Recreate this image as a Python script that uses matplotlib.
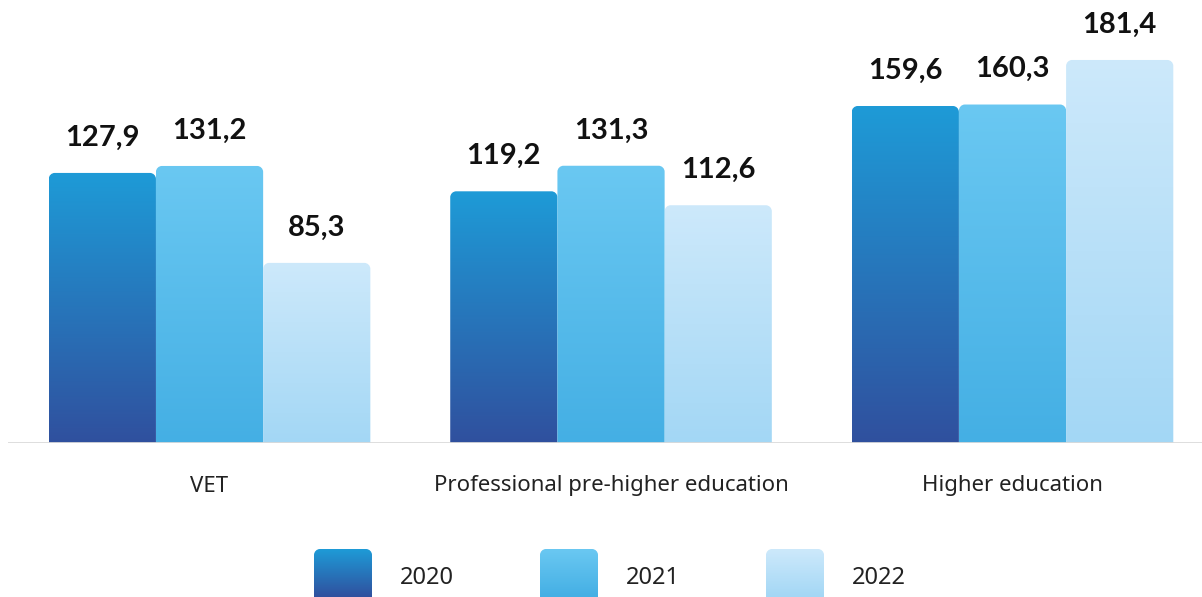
import numpy as np
import matplotlib as mpl
mpl.use("Agg")
import matplotlib.pyplot as plt
from matplotlib.path import Path
from matplotlib.patches import PathPatch
from matplotlib.colors import to_rgb

mpl.rcParams['font.family'] = ['Noto Sans', 'DejaVu Sans']

categories = ["VET", "Professional pre-higher education", "Higher education"]
years = ["2020", "2021", "2022"]
v2020 = [127.9, 119.2, 159.6]
v2021 = [131.2, 131.3, 160.3]
v2022 = [85.3, 112.6, 181.4]
values = [v2020, v2021, v2022]

# gradient top / bottom per series
grad = [("#1E9BD7", "#30509E"), ("#6AC8F2", "#44AFE4"), ("#CDE9FB", "#A3D7F5")]

W, H = 1202, 597
fig = plt.figure(figsize=(W / 100, H / 100), dpi=100)
ax = fig.add_axes([8 / W, 154 / H, 1 - 8 / W, 443 / H])
ax.set_xlim(-0.502, 2.472)
ax.set_ylim(0, 209.8)
ax.axis("off")

bw = 0.267
px_x = (W - 8) / (2.472 + 0.502)
px_y = 443 / 209.8


def top_round_path(x0, w, h, rx, ry):
    k = 0.5523
    verts = [(x0, 0), (x0, h - ry),
             (x0, h - ry + k * ry), (x0 + rx - k * rx, h), (x0 + rx, h),
             (x0 + w - rx, h),
             (x0 + w - rx + k * rx, h), (x0 + w, h - ry + k * ry), (x0 + w, h - ry),
             (x0 + w, 0), (x0, 0)]
    codes = [Path.MOVETO, Path.LINETO,
             Path.CURVE4, Path.CURVE4, Path.CURVE4,
             Path.LINETO,
             Path.CURVE4, Path.CURVE4, Path.CURVE4,
             Path.LINETO, Path.CLOSEPOLY]
    return Path(verts, codes)


def gradient_img(top, bot, n=256):
    t = np.linspace(0, 1, n)[:, None]
    c0 = np.array(to_rgb(top))
    c1 = np.array(to_rgb(bot))
    arr = c0[None, :] * (1 - t[:, :, None]) + c1[None, :] * t[:, :, None]
    return arr


rx = 6 / px_x
ry = 6 / px_y
x = np.arange(len(categories))
for i, series in enumerate(values):
    for j, v in enumerate(series):
        x0 = x[j] + (i - 1) * bw - bw / 2
        patch = PathPatch(top_round_path(x0, bw, v, rx, ry), fc="none", ec="none")
        ax.add_patch(patch)
        im = ax.imshow(gradient_img(*grad[i]), extent=[x0, x0 + bw, 0, v],
                       aspect="auto", interpolation="bicubic", zorder=2)
        im.set_clip_path(patch)
        ax.annotate(f"{v:.1f}".replace(".", ","), (x0 + bw / 2, v),
                    xytext=(0, 16), textcoords="offset points",
                    ha="center", va="bottom", fontsize=21, fontweight="bold",
                    family=["Lato", "DejaVu Sans"], color="#111111")

ax.axhline(0, color="#DADADA", lw=2, zorder=3)
for j, c in enumerate(categories):
    ax.text(x[j], -43 / px_y, c, ha="center", va="center", fontsize=16,
            color="#222222")

# legend drawn manually (gradient swatches)
lax = fig.add_axes([0, 0, 1, 60 / H])
lax.set_xlim(0, W)
lax.set_ylim(0, 60)
lax.axis("off")
sw_w, sw_h = 58, 48
for i, yr in enumerate(years):
    lx = 314 + i * 226
    p = PathPatch(top_round_path(lx, sw_w, sw_h, 6, 6), fc="none", ec="none")
    lax.add_patch(p)
    im = lax.imshow(gradient_img(*grad[i]), extent=[lx, lx + sw_w, 0, sw_h],
                    aspect="auto", interpolation="bicubic")
    im.set_clip_path(p)
    lax.text(lx + 86, 19, yr, ha="left", va="center", fontsize=17,
             color="#222222")

fig.savefig("out.png", dpi=100)
